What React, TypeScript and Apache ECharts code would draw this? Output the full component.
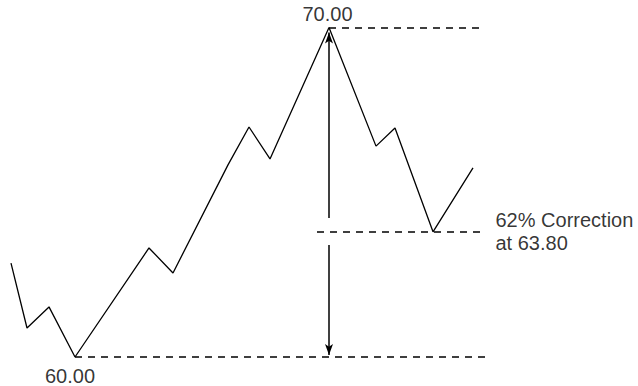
import React, { useEffect, useRef } from "react";
import * as echarts from "echarts";

// Price path (x = time units, y = price)
const timeX = [0, 4, 9.5, 16, 34.5, 40.5, 54.25, 59.5, 64.75, 79.5, 91.25, 96, 105.5, 115.5];
const priceY = [62.85, 60.88, 61.52, 60.0, 63.31, 62.55, 65.83, 66.98, 66.01, 70.0, 66.4, 66.95, 63.8, 65.74];

const lowPrice = 60.0;
const highPrice = 70.0;
const correctionPrice = 63.8;
const peakX = 79.5;
const lowX = 16;
const lineEndX = 118.5;
const correctionStartX = 76.5;
const arrowUpFrom = 64.22;
const arrowUpTo = 69.85;
const arrowDownFrom = 63.4;
const arrowDownTo = 60.06;

const labelHigh = "70.00";
const labelLow = "60.00";
const labelCorrection = "62% Correction\nat 63.80";

const FONT = "'Liberation Sans', Arial, Helvetica, sans-serif";

export default function App() {
  const ref = useRef<HTMLDivElement>(null);

  useEffect(() => {
    if (!ref.current) return;
    const chart = echarts.init(ref.current, undefined, { renderer: "svg" });
    const dashed = { color: "#000", width: 1.5, type: [7, 6] as any };
    const txt = { show: true, color: "#000", fontSize: 20, fontFamily: FONT, lineHeight: 20 };
    chart.setOption({
      animation: false,
      backgroundColor: "#fff",
      grid: { left: 0, right: 0, top: 27.5, bottom: 29, containLabel: false },
      xAxis: { type: "value", min: -2.75, max: 156.75, show: false },
      yAxis: { type: "value", min: lowPrice, max: highPrice, show: false },
      series: [
        {
          type: "line",
          data: timeX.map((x, i) => [x, priceY[i]]),
          symbol: "none",
          lineStyle: { color: "#000", width: 1.3 },
          clip: false,
          markLine: {
            silent: true,
            symbol: ["none", "none"],
            lineStyle: dashed,
            label: { show: false },
            data: [
              [{ coord: [peakX, highPrice] }, { coord: [lineEndX, highPrice] }],
              [{ coord: [correctionStartX, correctionPrice] }, { coord: [lineEndX, correctionPrice] }],
              [{ coord: [lowX, lowPrice] }, { coord: [lineEndX, lowPrice] }],
              [
                {
                  coord: [peakX, arrowUpFrom],
                  symbol: "none",
                  lineStyle: { type: "solid", width: 1.5, color: "#000" },
                },
                { coord: [peakX, arrowUpTo], symbol: "arrow", symbolSize: [6, 11] },
              ],
              [
                {
                  coord: [peakX, arrowDownFrom],
                  symbol: "none",
                  lineStyle: { type: "solid", width: 1.5, color: "#000" },
                },
                { coord: [peakX, arrowDownTo], symbol: "arrow", symbolSize: [6, 11] },
              ],
            ],
          },
        },
        {
          type: "scatter",
          symbolSize: 1,
          itemStyle: { color: "rgba(0,0,0,0)" },
          silent: true,
          data: [
            {
              value: [peakX, highPrice],
              label: { ...txt, formatter: labelHigh, position: "top", distance: 3.5, offset: [-1.5, 0] },
            },
            {
              value: [lowX, lowPrice],
              label: { ...txt, formatter: labelLow, position: "bottom", distance: 8, offset: [-5, 0] },
            },
            {
              value: [lineEndX, correctionPrice],
              label: {
                ...txt,
                formatter: labelCorrection,
                position: "right",
                distance: 10,
                align: "left",
                lineHeight: 23,
              },
            },
          ],
        },
      ],
    });
    return () => chart.dispose();
  }, []);

  return (
    <div
      ref={ref}
      style={{ position: "fixed", left: 0, top: 0, width: 638, height: 386, background: "#fff" }}
    />
  );
}
